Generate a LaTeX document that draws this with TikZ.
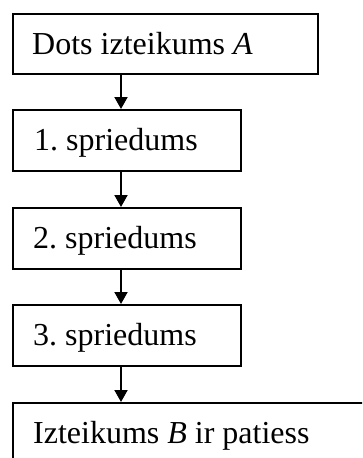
\documentclass[tikz,border=0pt]{standalone}
\usepackage{fontspec}
\setmainfont{Liberation Serif}
\usetikzlibrary{arrows.meta}
\begin{document}
\frenchspacing
\begin{tikzpicture}[x=1pt,y=-1pt,
  box/.style={draw=black,line width=1.9pt,rectangle,anchor=north west,inner sep=0pt},
  lbl/.style={anchor=base west,inner sep=0pt,font=\fontsize{32}{38}\selectfont},
  arr/.style={line width=1.9pt,-{Triangle[length=12pt,width=13pt]}}]
\useasboundingbox (0,0) rectangle (362,458);
\clip (0,0) rectangle (362,458);
\coordinate (ax) at (121,0);
\node[box,minimum width=305pt,minimum height=60pt] (b1) at (12,13) {};
\node[lbl] (t1) at (32,54) {Dots izteikums \textit{A}};
\node[box,minimum width=228pt,minimum height=61pt] (b2) at (12,109) {};
\node[lbl] (t2) at (34,150) {1. spriedums};
\node[box,minimum width=228pt,minimum height=61pt] (b3) at (12,207) {};
\node[lbl] (t3) at (33,248) {2. spriedums};
\node[box,minimum width=228pt,minimum height=61pt] (b4) at (12,304) {};
\node[lbl] (t4) at (33,345) {3. spriedums};
\node[box,minimum width=400pt,minimum height=61pt] (b5) at (12,402) {};
\node[lbl] (t5) at (33,443) {Izteikums \textit{B} ir patiess};
\draw[arr] (b1.south -| ax) -- (b2.north -| ax);
\draw[arr] (b2.south -| ax) -- (b3.north -| ax);
\draw[arr] (b3.south -| ax) -- (b4.north -| ax);
\draw[arr] (b4.south -| ax) -- (b5.north -| ax);
\end{tikzpicture}
\end{document}
